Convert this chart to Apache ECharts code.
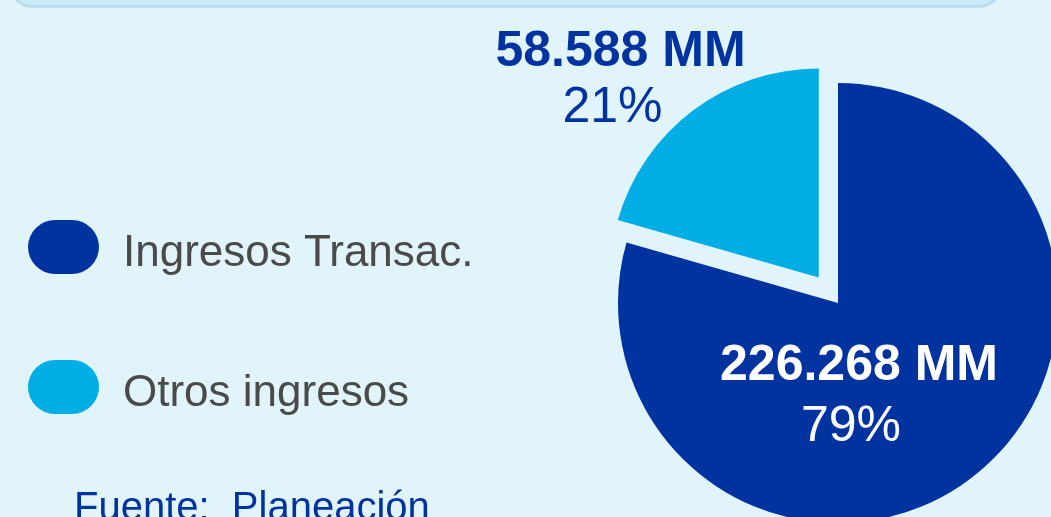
<!DOCTYPE html>
<html>
<head>
<meta charset="utf-8">
<script src="https://cdn.jsdelivr.net/npm/echarts@6/dist/echarts.min.js"></script>
<style>
html, body { margin: 0; padding: 0; background: #e0f4fa; }
#chart { width: 1051px; height: 517px; }
</style>
</head>
<body>
<div id="chart"></div>
<script>
// datos (millones de pesos)
var categories = ['Ingresos Transac.', 'Otros ingresos'];
var values = [226268, 58588];
var colors = ['#0033a0', '#00aee5'];
var unit = 'MM';
var source = 'Fuente:  Planeación';

function fmtNum(v) {
    return String(v).replace(/\B(?=(\d{3})+(?!\d))/g, '.');
}
var total = values.reduce(function (a, b) { return a + b; }, 0);
function pct(v) { return Math.round(v / total * 100) + '%'; }

var chart = echarts.init(document.getElementById('chart'));
var font = 'Liberation Sans, Arial, sans-serif';

// serie grande: solo la porcion oscura visible
var bigData = categories.map(function (c, i) {
    return { name: c, value: values[i], itemStyle: { color: i === 0 ? colors[0] : 'rgba(0,0,0,0)' } };
});
// serie pequeña: porcion clara separada
var smallData = categories.map(function (c, i) {
    return { name: c, value: values[i], selected: i === 1, itemStyle: { color: i === 1 ? colors[1] : 'rgba(0,0,0,0)' } };
});

var option = {
    backgroundColor: '#e0f4fa',
    animation: false,
    legend: {
        orient: 'vertical',
        left: 23,
        top: 215,
        itemWidth: 71,
        itemHeight: 54,
        itemGap: 84,
        selectedMode: false,
        icon: 'path://M27,0 L44,0 A27,27 0 0 1 44,54 L27,54 A27,27 0 0 1 27,0 Z',
        formatter: function (name) { return '{t|' + name + '}'; },
        textStyle: {
            padding: [0, 0, 0, 19],
            rich: { t: { fontSize: 44, color: '#4a4a4a', fontFamily: font, padding: [14, 0, 0, 0] } }
        },
        data: categories.map(function (c, i) {
            return { name: c, itemStyle: { color: colors[i] } };
        })
    },
    graphic: [
        {
            type: 'rect', silent: true, z: 0,
            shape: { x: 10, y: -60, width: 991, height: 66.5, r: 22 },
            style: { fill: '#c7ebf7', stroke: '#bcdcf0', lineWidth: 3 }
        },
        {
            type: 'text', x: 620.5, y: 52, z: 10,
            style: { text: fmtNum(values[1]) + ' ' + unit, fill: colors[0], font: 'bold 50px ' + font, align: 'center', verticalAlign: 'middle' }
        },
        {
            type: 'text', x: 612.5, y: 108, z: 10,
            style: { text: pct(values[1]), fill: colors[0], font: '50px ' + font, align: 'center', verticalAlign: 'middle' }
        },
        {
            type: 'text', x: 859, y: 366, z: 10,
            style: { text: fmtNum(values[0]) + ' ' + unit, fill: '#ffffff', font: 'bold 50px ' + font, align: 'center', verticalAlign: 'middle' }
        },
        {
            type: 'text', x: 851, y: 427, z: 10,
            style: { text: pct(values[0]), fill: '#ffffff', font: '50px ' + font, align: 'center', verticalAlign: 'middle' }
        },
        {
            type: 'text', x: 74, y: 509, z: 10,
            style: { text: source, fill: colors[0], font: '40px ' + font, align: 'left', verticalAlign: 'middle' }
        }
    ],
    series: [
        {
            type: 'pie',
            silent: true,
            center: [838, 303],
            radius: 220,
            startAngle: 90,
            clockwise: true,
            label: { show: false },
            labelLine: { show: false },
            data: bigData
        },
        {
            type: 'pie',
            silent: true,
            center: [838, 303],
            radius: 209,
            startAngle: 90,
            clockwise: true,
            selectedMode: 'single',
            selectedOffset: 32,
            label: { show: false },
            labelLine: { show: false },
            data: smallData
        }
    ]
};

chart.setOption(option);
</script>
</body>
</html>
